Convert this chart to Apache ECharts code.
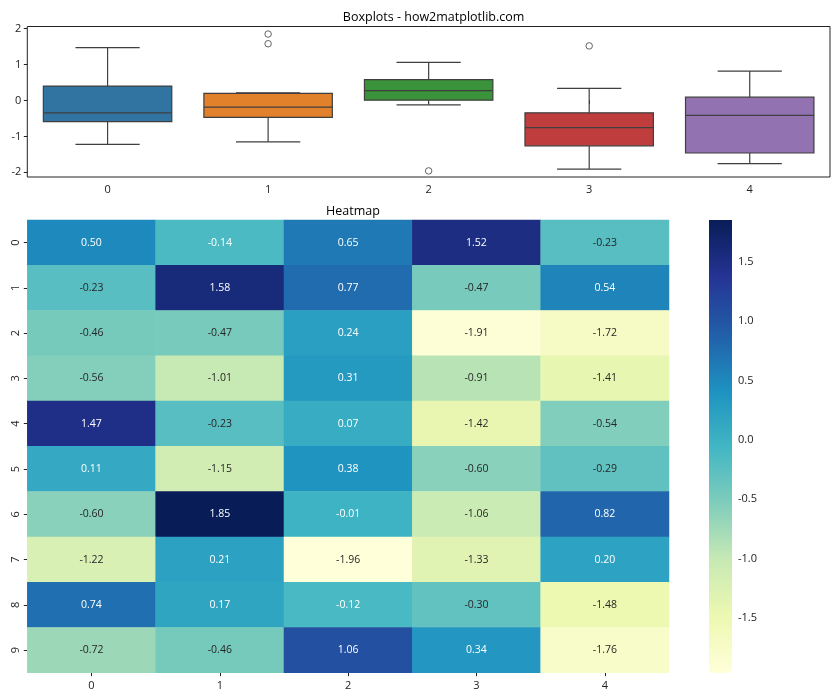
<!DOCTYPE html>
<html>
<head>
<meta charset="utf-8">
<script src="https://cdn.jsdelivr.net/npm/echarts@6/dist/echarts.min.js"></script>
<style>html,body{margin:0;padding:0;background:#fff}#c{width:840px;height:700px}</style>
</head>
<body>
<div id="c"></div>
<script>
// ---- data ----
var columns = ['0', '1', '2', '3', '4'];
var rows = ['0', '1', '2', '3', '4', '5', '6', '7', '8', '9'];
var row0 = [0.50, -0.14, 0.65, 1.52, -0.23];
var row1 = [-0.23, 1.58, 0.77, -0.47, 0.54];
var row2 = [-0.46, -0.47, 0.24, -1.91, -1.72];
var row3 = [-0.56, -1.01, 0.31, -0.91, -1.41];
var row4 = [1.47, -0.23, 0.07, -1.42, -0.54];
var row5 = [0.11, -1.15, 0.38, -0.60, -0.29];
var row6 = [-0.60, 1.85, -0.01, -1.06, 0.82];
var row7 = [-1.22, 0.21, -1.96, -1.33, 0.20];
var row8 = [0.74, 0.17, -0.12, -0.30, -1.48];
var row9 = [-0.72, -0.46, 1.06, 0.34, -1.76];
var matrix = [row0, row1, row2, row3, row4, row5, row6, row7, row8, row9];
var boxYTicks = [-2, -1, 0, 1, 2];
var cbarTicks = [-1.5, -1.0, -0.5, 0.0, 0.5, 1.0, 1.5];
var boxColors = ['#3274a1', '#e1812c', '#3a923a', '#c03d3e', '#9372b2'];
var ylgnbu = ['#ffffd9', '#edf8b1', '#c7e9b4', '#7fcdbb', '#41b6c4', '#1d91c0', '#225ea8', '#253494', '#081d58'];

// ---- box statistics (linear quantiles, 1.5 IQR whiskers) ----
function quantile(sorted, q) {
  var pos = (sorted.length - 1) * q, lo = Math.floor(pos), hi = Math.ceil(pos);
  return sorted[lo] + (sorted[hi] - sorted[lo]) * (pos - lo);
}
var boxData = [], outliers = [];
columns.forEach(function (c, ci) {
  var vals = matrix.map(function (r) { return r[ci]; }).sort(function (a, b) { return a - b; });
  var q1 = quantile(vals, 0.25), med = quantile(vals, 0.5), q3 = quantile(vals, 0.75);
  var iqr = q3 - q1, lf = q1 - 1.5 * iqr, uf = q3 + 1.5 * iqr;
  var inside = vals.filter(function (v) { return v >= lf && v <= uf; });
  vals.forEach(function (v) { if (v < lf || v > uf) outliers.push([ci, v]); });
  boxData.push([ci, inside[0], q1, med, q3, inside[inside.length - 1]]);
});

var heatData = [];
var allVals = [];
matrix.forEach(function (r, ri) {
  r.forEach(function (v, ci) {
    allVals.push(v);
    heatData.push({ value: [ci, ri, v], label: { color: v < -0.2 ? '#262626' : '#ffffff' } });
  });
});
var vmin = Math.min.apply(null, allVals), vmax = Math.max.apply(null, allVals);

var FONT = 'Open Sans';
var chart = echarts.init(document.getElementById('c'), null, { renderer: 'canvas' });
var edge = '#3f3f3f';

var option = {
  animation: false,
  textStyle: { fontFamily: FONT },
  title: [
    { text: 'Boxplots - how2matplotlib.com', left: 428.6, top: 6, textAlign: 'center',
      textStyle: { fontSize: 12.5, fontWeight: 'normal', color: '#000', fontFamily: FONT } },
    { text: 'Heatmap', left: 348, top: 200, textAlign: 'center',
      textStyle: { fontSize: 12.5, fontWeight: 'normal', color: '#000', fontFamily: FONT } }
  ],
  grid: [
    { left: 27.3, top: 26.5, width: 802.7, height: 150.5, show: true, borderColor: '#222', borderWidth: 1, backgroundColor: 'transparent' },
    { left: 27.3, top: 220, width: 641.7, height: 452.7 },
    { left: 709, top: 220, width: 23, height: 452.7 }
  ],
  xAxis: [
    { gridIndex: 0, type: 'category', data: columns, boundaryGap: true,
      axisLine: { show: false }, axisTick: { show: true, alignWithLabel: true, length: 3.5, lineStyle: { color: '#222' } },
      axisLabel: { color: '#222', fontSize: 11, margin: 7, fontFamily: FONT }, splitLine: { show: false } },
    { gridIndex: 1, type: 'category', data: columns, boundaryGap: true,
      axisLine: { show: false }, axisTick: { show: true, alignWithLabel: true, length: 3.5, lineStyle: { color: '#222' } },
      axisLabel: { color: '#222', fontSize: 11, margin: 8, fontFamily: FONT }, splitLine: { show: false } },
    { gridIndex: 2, type: 'value', show: false, min: 0, max: 1 }
  ],
  yAxis: [
    { gridIndex: 0, type: 'value', min: -2.13, max: 2.06,
      axisLine: { show: false }, splitLine: { show: false },
      axisTick: { show: true, length: 3.5, customValues: boxYTicks, lineStyle: { color: '#222' } },
      axisLabel: { color: '#222', fontSize: 11, margin: 6, customValues: boxYTicks, fontFamily: FONT } },
    { gridIndex: 1, type: 'category', data: rows, inverse: true,
      axisLine: { show: false }, splitLine: { show: false },
      axisTick: { show: true, alignWithLabel: true, length: 3.5, lineStyle: { color: '#222' } },
      axisLabel: { color: '#222', fontSize: 11, margin: 6, rotate: 90, fontFamily: FONT } },
    { gridIndex: 2, type: 'value', position: 'right', min: vmin, max: vmax,
      axisLine: { show: false }, splitLine: { show: false },
      axisTick: { show: true, length: 3.5, customValues: cbarTicks, lineStyle: { color: '#222' } },
      axisLabel: { color: '#222', fontSize: 11, margin: 6, customValues: cbarTicks, fontFamily: FONT,
        formatter: function (v) { return (+v).toFixed(1); } } }
  ],
  visualMap: {
    type: 'continuous', seriesIndex: 2, dimension: 2, min: vmin, max: vmax,
    show: false, inRange: { color: ylgnbu }
  },
  series: [
    {
      type: 'custom', xAxisIndex: 0, yAxisIndex: 0, data: boxData,
      encode: { x: 0, y: [1, 2, 3, 4, 5] },
      renderItem: function (params, api) {
        var ci = api.value(0);
        var band = api.size([1, 0])[0];
        var bw = band * 0.8, cw = band * 0.4;
        var pMin = api.coord([ci, api.value(1)]);
        var pQ1 = api.coord([ci, api.value(2)]);
        var pMed = api.coord([ci, api.value(3)]);
        var pQ3 = api.coord([ci, api.value(4)]);
        var pMax = api.coord([ci, api.value(5)]);
        var x = pMed[0];
        var ls = { stroke: edge, lineWidth: 1.2 };
        return {
          type: 'group',
          children: [
            { type: 'line', shape: { x1: x, y1: pQ1[1], x2: x, y2: pMin[1] }, style: ls },
            { type: 'line', shape: { x1: x, y1: pQ3[1], x2: x, y2: pMax[1] }, style: ls },
            { type: 'line', shape: { x1: x - cw / 2, y1: pMin[1], x2: x + cw / 2, y2: pMin[1] }, style: ls },
            { type: 'line', shape: { x1: x - cw / 2, y1: pMax[1], x2: x + cw / 2, y2: pMax[1] }, style: ls },
            { type: 'rect', shape: { x: x - bw / 2, y: pQ3[1], width: bw, height: pQ1[1] - pQ3[1] },
              style: { fill: boxColors[ci], stroke: edge, lineWidth: 1.2 } },
            { type: 'line', shape: { x1: x - bw / 2, y1: pMed[1], x2: x + bw / 2, y2: pMed[1] }, style: ls }
          ]
        };
      }
    },
    {
      type: 'scatter', xAxisIndex: 0, yAxisIndex: 0, data: outliers,
      symbol: 'circle', symbolSize: 6.5,
      itemStyle: { color: 'rgba(0,0,0,0)', borderColor: edge, borderWidth: 1 }
    },
    {
      type: 'heatmap', xAxisIndex: 1, yAxisIndex: 1, data: heatData,
      label: { show: true, fontSize: 10.5, fontFamily: FONT,
        formatter: function (p) { return p.value[2].toFixed(2); } },
      itemStyle: { borderWidth: 0 },
      emphasis: { disabled: true }
    },
    {
      // colorbar: one gradient rect spanning the colour scale on the colorbar axis
      type: 'custom', xAxisIndex: 2, yAxisIndex: 2, data: [[0, vmin, 1, vmax]],
      encode: { x: [0, 2], y: [1, 3] }, silent: true,
      renderItem: function (params, api) {
        var p0 = api.coord([api.value(0), api.value(1)]);
        var p1 = api.coord([api.value(2), api.value(3)]);
        var stops = ylgnbu.map(function (c, i) { return { offset: 1 - i / (ylgnbu.length - 1), color: c }; }).reverse();
        return {
          type: 'rect',
          shape: { x: p0[0], y: p1[1], width: p1[0] - p0[0], height: p0[1] - p1[1] },
          style: { fill: new echarts.graphic.LinearGradient(0, 0, 0, 1, stops) }
        };
      }
    }
  ]
};
chart.setOption(option);
</script>
</body>
</html>
